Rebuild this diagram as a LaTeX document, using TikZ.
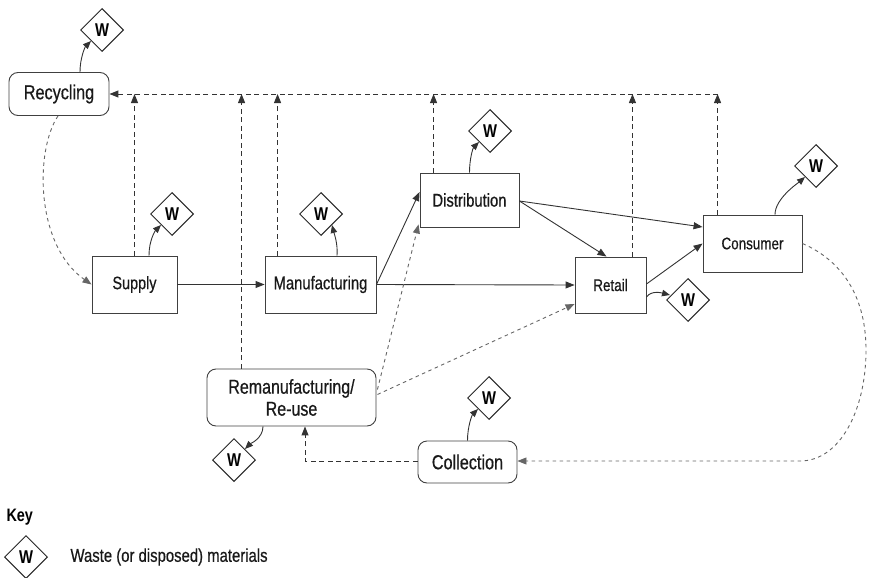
\documentclass[tikz,border=0pt]{standalone}
\usepackage{fontspec}
\setmainfont[FakeStretch=0.8]{Liberation Sans}
\newfontfamily\lblfont[FakeStretch=0.8,FakeBold=0.6]{Liberation Sans}
\usetikzlibrary{arrows.meta,shapes.geometric,calc}
\tikzset{
  box/.style={draw=black!75, line width=0.9pt, inner sep=0pt, text=black!90,
    font=\lblfont\fontsize{18.5}{21}\selectfont},
  sbox/.style={box, font=\lblfont\fontsize{16.8}{19}\selectfont},
  rbox/.style={box, rounded corners=9pt, font=\lblfont\fontsize{20.3}{22}\selectfont, align=center},
  wdia/.style={diamond, draw=black!85, line width=1pt, minimum width=43pt, minimum height=43pt,
    inner sep=0pt, text=black, font=\bfseries\fontsize{18.5}{18.5}\selectfont},
  tip/.style={-{Triangle[length=9pt,width=7pt]}},
  sarr/.style={tip, draw=black!80, line width=0.9pt},
  warr/.style={-{Triangle[length=8pt,width=6.5pt]}, draw=black!80, line width=0.9pt},
  darr/.style={tip, draw=black!80, line width=1pt, dash pattern=on 5pt off 3.5pt},
  larr/.style={tip, draw=black!60, line width=0.9pt, dash pattern=on 3.5pt off 3.5pt},
}
\begin{document}
\begin{tikzpicture}[x=1pt,y=-1pt]
\useasboundingbox (0,0) rectangle (870,578);
% boxes
\node[rbox, minimum width=100pt, minimum height=43pt] (rec) at (59,94) {Recycling};
\node[box, font=\lblfont\fontsize{18}{21}\selectfont, minimum width=85pt, minimum height=57pt] (sup) at (134.5,284.5) {Supply};
\node[box, minimum width=111pt, minimum height=57pt] (man) at (320.5,284.5) {Manufacturing};
\node[box, minimum width=99pt, minimum height=54pt] (dis) at (469.5,200) {Distribution};
\node[sbox, minimum width=71pt, minimum height=56pt] (ret) at (610.5,285) {Retail};
\node[sbox, minimum width=99pt, minimum height=57pt] (con) at (752.5,243.5) {Consumer};
\node[rbox, font=\lblfont\fontsize{20}{22}\selectfont, minimum width=169pt, minimum height=57pt] (rem) at (291.5,397.5) {Remanufacturing/\\Re-use};
\node[rbox, minimum width=99pt, minimum height=42pt] (col) at (467.5,462) {Collection};
% waste diamonds
\node[wdia] (wr) at (102,30) {W};
\node[wdia] (ws) at (172,214) {W};
\node[wdia] (wm) at (321,214) {W};
\node[wdia] (wd) at (490,131) {W};
\node[wdia] (wc) at (816,166) {W};
\node[wdia] (wt) at (688,300) {W};
\node[wdia] (wrem) at (234,460) {W};
\node[wdia] (wcol) at (489,398) {W};
% key
\node[anchor=west, text=black, font=\bfseries\fontsize{18}{20}\selectfont] (key) at (3,517) {Key};
\node[wdia] (wkey) at (26,557) {W};
\node[anchor=west, text=black!90, font=\lblfont\fontsize{18.6}{21}\selectfont] (keytext) at (67,557) {Waste (or disposed) materials};
% top return line
\coordinate (topR) at (718,94);
\draw[darr] (topR) -- (rec.east);
\coordinate (vrem) at ($(rem.north west)+(35,0)$);
\coordinate (vm) at ($(man.north west)+(13,0)$);
\coordinate (vd) at ($(dis.north west)+(14,0)$);
\coordinate (vt) at ($(ret.north east)+(-14,0)$);
\coordinate (vc) at ($(con.north west)+(15,0)$);
\draw[darr] (sup.north) -- (sup.north |- topR);
\draw[darr] (vrem) -- (vrem |- topR);
\draw[darr] (vm) -- (vm |- topR);
\draw[darr] (vd) -- (vd |- topR);
\draw[darr] (vt) -- (vt |- topR);
\draw[darr] (vc) -- (vc |- topR);
% main flows
\draw[sarr] (sup.east) -- (man.west);
\draw[sarr] (man.east) -- ($(dis.west)+(0,-8)$);
\draw[sarr] (man.east) -- (ret.west);
\draw[sarr] ($(dis.east)+(0,1)$) -- ($(ret.north)+(-4,0)$);
\draw[sarr] ($(dis.east)+(0,1)$) -- ($(con.west)+(0,-16.5)$);
\draw[sarr] ($(ret.east)+(0,-1)$) -- (con.west);
% light dashed flows
\draw[larr] ($(rem.east)+(1,-8)$) -- ($(dis.south west)+(-1,-3)$);
\draw[larr] ($(rem.east)+(1,-3)$) -- ($(ret.west)+(0,19)$);
\draw[larr] ($(rec.south)+(-1,0)$) .. controls (35,150) and (35,245) .. (sup.west);
\draw[larr] (con.east) .. controls (845,262) and (866,300) .. (866,350)
   .. controls (866,410) and (840,461) .. (800,461) -- ($(col.east)+(0,-1)$);
\draw[darr] ($(col.west)+(0,-1)$) -| ($(rem.south)+(13.5,0)$);
% waste arrows
\draw[warr] ($(rec.north)+(21,0)$) .. controls +(0,-14) and +(-6,6) .. (wr.south west);
\draw[warr] ($(sup.north)+(14.5,0)$) .. controls +(0,-15) and +(-6,6) .. (ws.south west);
\draw[warr] ($(man.north)+(16.5,0)$) .. controls +(1,-12) and +(2,8) .. (wm.south east);
\draw[warr] (dis.north) .. controls +(0,-14) and +(-6,6) .. (wd.south west);
\draw[warr] ($(con.north)+(22.5,0)$) .. controls +(0,-16) and +(-7,6) .. (wc.south west);
\draw[warr] ($(ret.east)+(0,12)$) .. controls +(5,-7) and +(-8,-2) .. ($(wt.west)+(4,-5)$);
\draw[warr] (col.north) .. controls +(0,-14) and +(-6,6) .. (wcol.south west);
\draw[warr] ($(rem.south)+(-28.5,0)$) .. controls +(0,12) and +(5,-5) .. (wrem.north east);
\end{tikzpicture}
\end{document}
